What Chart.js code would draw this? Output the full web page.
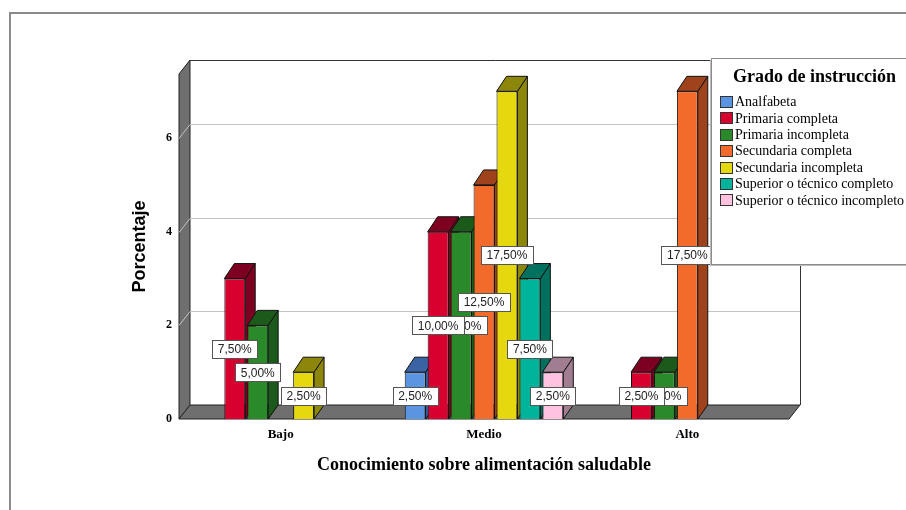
<!DOCTYPE html>
<html>
<head>
<meta charset="utf-8">
<script src="https://cdn.jsdelivr.net/npm/chart.js@4.4.0/dist/chart.umd.min.js"></script>
<style>
html, body { margin: 0; padding: 0; background: #fff; }
#wrap { width: 906px; height: 510px; position: relative; }
</style>
</head>
<body>
<div id="wrap"><canvas id="chart" width="906" height="510"></canvas></div>
<script>
// --- DATA ---
const niveles = ['Bajo', 'Medio', 'Alto'];
const grados = [
    'Analfabeta',
    'Primaria completa',
    'Primaria incompleta',
    'Secundaria completa',
    'Secundaria incompleta',
    'Superior o técnico completo',
    'Superior o técnico incompleto'
];
// counts per level (null = no cases, no bar)
const analfabeta = [null, 1, null];
const primariaCompleta = [3, 4, 1];
const primariaIncompleta = [2, 4, 1];
const secundariaCompleta = [null, 5, 7];
const secundariaIncompleta = [1, 7, null];
const superiorCompleto = [null, 3, null];
const superiorIncompleto = [null, 1, null];
const totalCasos = 40;
const yTicks = [0, 2, 4, 6];

// --- STYLE ---
const frontColors = ['#5b94e0', '#d8002f', '#2a8a2a', '#f26b2b', '#e5d80e', '#00b49b', '#ffc3df'];
const darkColors  = ['#3a63a3', '#7e0020', '#1c5a1c', '#9e431b', '#8c860a', '#00715f', '#a07d90'];
const DX = 11, DY = -14;        // wall / floor depth
const BDX = 10, BDY = -15;      // bar depth
const serif = '"Liberation Serif", "Times New Roman", serif';
const sans = '"Liberation Sans", Arial, sans-serif';

const series = [analfabeta, primariaCompleta, primariaIncompleta, secundariaCompleta,
                secundariaIncompleta, superiorCompleto, superiorIncompleto];

function poly(ctx, pts, fill, stroke) {
    ctx.beginPath();
    ctx.moveTo(pts[0][0], pts[0][1]);
    for (let i = 1; i < pts.length; i++) ctx.lineTo(pts[i][0], pts[i][1]);
    ctx.closePath();
    if (fill) { ctx.fillStyle = fill; ctx.fill(); }
    if (stroke) { ctx.strokeStyle = stroke; ctx.lineWidth = 1; ctx.stroke(); }
}

// walls, floor, grid and the depth faces of every bar
const box3d = {
    id: 'box3d',
    beforeDraw(chart) {
        const ctx = chart.ctx;
        ctx.save();
        ctx.strokeStyle = '#8a8a8a';
        ctx.lineWidth = 2;
        ctx.beginPath();
        ctx.moveTo(10, 520);
        ctx.lineTo(10, 13);
        ctx.lineTo(920, 13);
        ctx.stroke();
        ctx.restore();
    },
    beforeDatasetsDraw(chart) {
        const { ctx, chartArea: a, scales: { y } } = chart;
        ctx.save();
        // back wall
        ctx.fillStyle = '#fff';
        ctx.fillRect(a.left + DX, a.top + DY, a.width, a.height);
        // left wall
        poly(ctx, [[a.left, a.top], [a.left + DX, a.top + DY], [a.left + DX, a.bottom + DY], [a.left, a.bottom]], '#6f6f6f', '#222');
        // grid lines
        ctx.strokeStyle = '#c4c4c4';
        ctx.lineWidth = 1;
        yTicks.filter(v => v > 0).forEach(v => {
            const yy = Math.round(y.getPixelForValue(v)) + 0.5;
            ctx.beginPath();
            ctx.moveTo(a.left, yy);
            ctx.lineTo(a.left + DX, yy + DY);
            ctx.lineTo(a.right + DX, yy + DY);
            ctx.stroke();
        });
        // back wall outline
        ctx.strokeStyle = '#333';
        ctx.beginPath();
        ctx.moveTo(a.left + DX, a.top + DY + 0.5);
        ctx.lineTo(a.right + DX + 0.5, a.top + DY + 0.5);
        ctx.lineTo(a.right + DX + 0.5, a.bottom + DY);
        ctx.stroke();
        // floor
        poly(ctx, [[a.left, a.bottom], [a.left + DX, a.bottom + DY], [a.right + DX, a.bottom + DY], [a.right, a.bottom]], '#6f6f6f', '#222');

        // bar tops and sides, left to right
        const faces = [];
        chart.data.datasets.forEach((ds, di) => {
            const meta = chart.getDatasetMeta(di);
            meta.data.forEach((el, i) => {
                if (ds.data[i] == null) return;
                const p = el.getProps(['x', 'y', 'base', 'width'], true);
                faces.push({ l: p.x - p.width / 2, r: p.x + p.width / 2, t: p.y, b: p.base, c: darkColors[di] });
            });
        });
        faces.sort((m, n) => m.l - n.l);
        faces.forEach(f => {
            poly(ctx, [[f.r, f.t], [f.r + BDX, f.t + BDY], [f.r + BDX, f.b + DY], [f.r, f.b]], f.c, '#111');
            poly(ctx, [[f.l, f.t], [f.r, f.t], [f.r + BDX, f.t + BDY], [f.l + BDX, f.t + BDY]], f.c, '#111');
        });
        ctx.restore();
    },
    afterDatasetsDraw(chart) {
        const ctx = chart.ctx;
        ctx.save();
        ctx.font = '12px ' + sans;
        ctx.textAlign = 'center';
        ctx.textBaseline = 'middle';
        // later series first so earlier labels sit on top
        for (let di = chart.data.datasets.length - 1; di >= 0; di--) {
            const ds = chart.data.datasets[di];
            chart.getDatasetMeta(di).data.forEach((el, i) => {
                const v = ds.data[i];
                if (v == null) return;
                const txt = (v / totalCasos * 100).toFixed(2).replace('.', ',') + '%';
                const cx = el.x, cy = (el.y + el.base) / 2;
                const w = Math.round(ctx.measureText(txt).width + 11), h = 18;
                const bx = Math.round(cx - w / 2) + 0.5, by = Math.round(cy - h / 2) + 0.5;
                ctx.fillStyle = '#fff';
                ctx.fillRect(bx, by, w, h);
                ctx.strokeStyle = '#555';
                ctx.lineWidth = 1;
                ctx.strokeRect(bx, by, w, h);
                ctx.fillStyle = '#222';
                ctx.fillText(txt, cx, cy + 1);
            });
        }
        ctx.restore();
    },
    afterDraw(chart) {
        const ctx = chart.ctx;
        ctx.save();
        const lx = 711, ly = 58, lw = 210, lh = 206;
        ctx.fillStyle = '#bbb';
        ctx.fillRect(lx - 1, ly + 2, lw, lh);
        ctx.fillStyle = '#fff';
        ctx.fillRect(lx, ly, lw, lh);
        ctx.strokeStyle = '#8a8a8a';
        ctx.lineWidth = 1;
        ctx.strokeRect(lx + 0.5, ly + 0.5, lw, lh);
        ctx.fillStyle = '#000';
        ctx.font = 'bold 18px ' + serif;
        ctx.textBaseline = 'middle';
        ctx.textAlign = 'left';
        ctx.fillText('Grado de instrucción', 733, 77);
        ctx.font = '14px ' + serif;
        chart.data.datasets.forEach((ds, i) => {
            const yy = 102 + i * 16.4;
            ctx.fillStyle = ds.backgroundColor;
            ctx.fillRect(720, Math.round(yy - 6), 13, 12);
            ctx.strokeStyle = '#333';
            ctx.strokeRect(720.5, Math.round(yy - 6) + 0.5, 12, 11);
            ctx.fillStyle = '#000';
            ctx.fillText(ds.label, 735, yy + 0.5);
        });
        ctx.restore();
    }
};

new Chart(document.getElementById('chart'), {
    type: 'bar',
    data: {
        labels: niveles,
        datasets: grados.map((g, i) => ({
            label: g,
            data: series[i],
            backgroundColor: frontColors[i],
            borderColor: '#111',
            borderWidth: 1,
            categoryPercentage: 0.79,
            barPercentage: 0.91
        }))
    },
    options: {
        responsive: false,
        animation: false,
        devicePixelRatio: 1,
        layout: { padding: { left: 129, right: 117, top: 74, bottom: 34 } },
        plugins: { legend: { display: false }, tooltip: { enabled: false } },
        scales: {
            x: {
                grid: { display: false, drawTicks: false },
                border: { display: false },
                ticks: { color: '#000', padding: 8, font: { family: serif, size: 13, weight: 'bold' } },
                title: {
                    display: true,
                    text: 'Conocimiento sobre alimentación saludable',
                    color: '#000',
                    padding: 0,
                    font: { family: serif, size: 18, weight: 'bold' }
                },
                afterFit: s => { s.height = 57; }
            },
            y: {
                min: 0,
                max: 7.37,
                grid: { display: false, drawTicks: false },
                border: { display: false },
                ticks: { color: '#000', padding: 7, font: { family: serif, size: 12, weight: 'bold' } },
                afterBuildTicks: s => { s.ticks = yTicks.map(v => ({ value: v })); },
                title: {
                    display: true,
                    text: 'Porcentaje',
                    color: '#000',
                    padding: 0,
                    font: { family: sans, size: 18, weight: 'bold' }
                },
                afterFit: s => { s.width = 50; }
            }
        }
    },
    plugins: [box3d]
});
</script>
</body>
</html>
